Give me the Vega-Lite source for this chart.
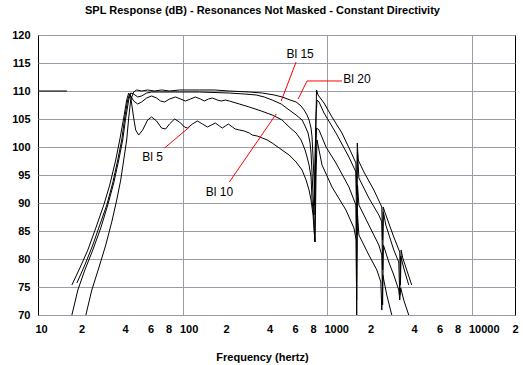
{
  "$schema": "https://vega.github.io/schema/vega-lite/v6.json",
  "width": 477,
  "height": 280,
  "autosize": "none",
  "padding": {"left": 38, "top": 35, "right": 8, "bottom": 50},
  "background": "white",
  "title": {
    "text": "SPL Response (dB) - Resonances Not Masked - Constant Directivity",
    "font": "Liberation Sans", "fontSize": 11, "fontWeight": "bold", "color": "black",
    "anchor": "middle", "dx": -14, "offset": 13
  },
  "config": {
    "view": {"stroke": "black", "strokeWidth": 1},
    "axis": {"labelFont": "Liberation Sans", "labelFontSize": 11, "labelFontWeight": "bold", "labelColor": "black", "titleFont": "Liberation Sans", "titleFontSize": 11, "titleFontWeight": "bold", "titleColor": "black"}
  },
  "encoding": {
    "x": {
      "field": "f", "type": "quantitative",
      "scale": {"type": "log", "domain": [10, 20000], "nice": false},
      "axis": {
        "values": [10, 20, 40, 60, 80, 100, 200, 400, 600, 800, 1000, 2000, 4000, 6000, 8000, 10000, 20000],
        "labelExpr": "(datum.value == 10 || datum.value == 100 || datum.value == 1000 || datum.value == 10000) ? toString(datum.value) : substring(toString(datum.value), 0, 1)",
        "grid": true,
        "gridColor": {"condition": {"test": "datum.value == 100 || datum.value == 1000 || datum.value == 10000", "value": "#9a9aaa"}, "value": "transparent"},
        "gridWidth": 1,
        "tickSize": 0, "domain": false,
        "labelAlign": "left", "labelOffset": -3, "labelPadding": 8, "labelBaseline": "top",
        "labelFlush": false, "labelOverlap": false, "labelBound": false,
        "title": "Frequency (hertz)", "titleX": 224, "titleY": 45, "titleBaseline": "alphabetic"
      }
    },
    "y": {
      "field": "db", "type": "quantitative",
      "scale": {"domain": [70, 120], "nice": false, "zero": false},
      "axis": {
        "values": [70, 75, 80, 85, 90, 95, 100, 105, 110, 115, 120],
        "grid": true, "gridColor": "#9a9aaa", "gridWidth": 1, "labelOverlap": false,
        "tickSize": 0, "domain": false, "labelPadding": 8, "title": null
      }
    }
  },
  "layer": [
    {
      "data": {"values": [
        {"s": "ref", "f": 10, "db": 110}, {"s": "ref", "f": 15.85, "db": 110},
        {"s": "Bl 5", "f": 17.16, "db": 75.36}, {"s": "Bl 5", "f": 19.48, "db": 78.39}, {"s": "Bl 5", "f": 22.13, "db": 81.61}, {"s": "Bl 5", "f": 25.12, "db": 85.54}, {"s": "Bl 5", "f": 28.52, "db": 89.64}, {"s": "Bl 5", "f": 31.37, "db": 93.21}, {"s": "Bl 5", "f": 34.51, "db": 97.68}, {"s": "Bl 5", "f": 36.78, "db": 101.25}, {"s": "Bl 5", "f": 39.19, "db": 105.18}, {"s": "Bl 5", "f": 41.1, "db": 108.39}, {"s": "Bl 5", "f": 42.43, "db": 109.64}, {"s": "Bl 5", "f": 43.8, "db": 108.93}, {"s": "Bl 5", "f": 45.94, "db": 105.18}, {"s": "Bl 5", "f": 47.42, "db": 103.04}, {"s": "Bl 5", "f": 49.74, "db": 102.14}, {"s": "Bl 5", "f": 53.0, "db": 103.04}, {"s": "Bl 5", "f": 57.36, "db": 104.82}, {"s": "Bl 5", "f": 61.11, "db": 105.36}, {"s": "Bl 5", "f": 66.17, "db": 104.64}, {"s": "Bl 5", "f": 71.63, "db": 103.39}, {"s": "Bl 5", "f": 76.33, "db": 103.21}, {"s": "Bl 5", "f": 81.35, "db": 104.11}, {"s": "Bl 5", "f": 88.1, "db": 105.0}, {"s": "Bl 5", "f": 95.35, "db": 104.46}, {"s": "Bl 5", "f": 103.2, "db": 103.57}, {"s": "Bl 5", "f": 108.3, "db": 103.39}, {"s": "Bl 5", "f": 117.2, "db": 104.11}, {"s": "Bl 5", "f": 126.9, "db": 104.64}, {"s": "Bl 5", "f": 137.4, "db": 104.11}, {"s": "Bl 5", "f": 148.7, "db": 103.57}, {"s": "Bl 5", "f": 158.5, "db": 103.93}, {"s": "Bl 5", "f": 168.9, "db": 104.29}, {"s": "Bl 5", "f": 180.0, "db": 103.75}, {"s": "Bl 5", "f": 188.7, "db": 103.39}, {"s": "Bl 5", "f": 198.0, "db": 103.75}, {"s": "Bl 5", "f": 207.7, "db": 104.11}, {"s": "Bl 5", "f": 221.3, "db": 103.57}, {"s": "Bl 5", "f": 232.0, "db": 103.21}, {"s": "Bl 5", "f": 247.2, "db": 103.04}, {"s": "Bl 5", "f": 267.6, "db": 102.86}, {"s": "Bl 5", "f": 289.8, "db": 102.5}, {"s": "Bl 5", "f": 303.9, "db": 102.14}, {"s": "Bl 5", "f": 329.0, "db": 101.96}, {"s": "Bl 5", "f": 356.3, "db": 101.61}, {"s": "Bl 5", "f": 385.7, "db": 101.25}, {"s": "Bl 5", "f": 417.6, "db": 100.71}, {"s": "Bl 5", "f": 466.7, "db": 99.82}, {"s": "Bl 5", "f": 547.1, "db": 98.57}, {"s": "Bl 5", "f": 611.1, "db": 97.32}, {"s": "Bl 5", "f": 672.3, "db": 95.89}, {"s": "Bl 5", "f": 716.3, "db": 94.11}, {"s": "Bl 5", "f": 751.3, "db": 92.32}, {"s": "Bl 5", "f": 775.5, "db": 90.54}, {"s": "Bl 5", "f": 800.6, "db": 87.86}, {"s": "Bl 5", "f": 813.5, "db": 85.18}, {"s": "Bl 5", "f": 826.5, "db": 83.04}, {"s": "Bl 5", "f": 839.8, "db": 95.0}, {"s": "Bl 5", "f": 853.2, "db": 101.25}, {"s": "Bl 5", "f": 923.7, "db": 96.79}, {"s": "Bl 5", "f": 1082.6, "db": 92.86}, {"s": "Bl 5", "f": 1352.1, "db": 88.75}, {"s": "Bl 5", "f": 1535.5, "db": 85.54}, {"s": "Bl 5", "f": 1592.7, "db": 83.39}, {"s": "Bl 5", "f": 1602.8, "db": 72.68}, {"s": "Bl 5", "f": 1618.2, "db": 88.75}, {"s": "Bl 5", "f": 1662.6, "db": 84.29}, {"s": "Bl 5", "f": 1948.4, "db": 80.71}, {"s": "Bl 5", "f": 2212.9, "db": 78.04}, {"s": "Bl 5", "f": 2357.3, "db": 75.89}, {"s": "Bl 5", "f": 2395.0, "db": 70.89}, {"s": "Bl 5", "f": 2433.4, "db": 77.14}, {"s": "Bl 5", "f": 2593.0, "db": 73.57}, {"s": "Bl 5", "f": 2807.0, "db": 70.0},
        {"s": "Bl 10", "f": 18.58, "db": 75.71}, {"s": "Bl 10", "f": 21.1, "db": 78.93}, {"s": "Bl 10", "f": 23.95, "db": 82.5}, {"s": "Bl 10", "f": 26.76, "db": 86.07}, {"s": "Bl 10", "f": 29.91, "db": 89.64}, {"s": "Bl 10", "f": 32.9, "db": 93.57}, {"s": "Bl 10", "f": 35.63, "db": 97.68}, {"s": "Bl 10", "f": 37.96, "db": 101.25}, {"s": "Bl 10", "f": 39.81, "db": 105.18}, {"s": "Bl 10", "f": 41.76, "db": 108.39}, {"s": "Bl 10", "f": 43.1, "db": 109.46}, {"s": "Bl 10", "f": 45.94, "db": 108.21}, {"s": "Bl 10", "f": 48.95, "db": 107.68}, {"s": "Bl 10", "f": 52.16, "db": 108.04}, {"s": "Bl 10", "f": 56.45, "db": 108.75}, {"s": "Bl 10", "f": 61.11, "db": 109.11}, {"s": "Bl 10", "f": 66.17, "db": 108.75}, {"s": "Bl 10", "f": 70.5, "db": 108.21}, {"s": "Bl 10", "f": 75.13, "db": 108.04}, {"s": "Bl 10", "f": 81.35, "db": 108.57}, {"s": "Bl 10", "f": 89.51, "db": 108.93}, {"s": "Bl 10", "f": 96.87, "db": 108.57}, {"s": "Bl 10", "f": 104.9, "db": 108.21}, {"s": "Bl 10", "f": 113.5, "db": 108.57}, {"s": "Bl 10", "f": 122.9, "db": 108.93}, {"s": "Bl 10", "f": 133.1, "db": 108.57}, {"s": "Bl 10", "f": 141.8, "db": 108.21}, {"s": "Bl 10", "f": 151.1, "db": 108.57}, {"s": "Bl 10", "f": 161.1, "db": 108.75}, {"s": "Bl 10", "f": 174.4, "db": 108.39}, {"s": "Bl 10", "f": 185.8, "db": 108.21}, {"s": "Bl 10", "f": 198.0, "db": 108.39}, {"s": "Bl 10", "f": 211.0, "db": 108.21}, {"s": "Bl 10", "f": 247.2, "db": 107.68}, {"s": "Bl 10", "f": 289.8, "db": 107.14}, {"s": "Bl 10", "f": 350.6, "db": 106.43}, {"s": "Bl 10", "f": 417.6, "db": 105.71}, {"s": "Bl 10", "f": 489.5, "db": 104.82}, {"s": "Bl 10", "f": 547.1, "db": 103.57}, {"s": "Bl 10", "f": 611.1, "db": 102.5}, {"s": "Bl 10", "f": 661.7, "db": 101.25}, {"s": "Bl 10", "f": 705.0, "db": 99.46}, {"s": "Bl 10", "f": 727.8, "db": 98.21}, {"s": "Bl 10", "f": 751.3, "db": 96.79}, {"s": "Bl 10", "f": 775.5, "db": 94.64}, {"s": "Bl 10", "f": 787.9, "db": 90.54}, {"s": "Bl 10", "f": 813.5, "db": 86.96}, {"s": "Bl 10", "f": 822.6, "db": 83.04}, {"s": "Bl 10", "f": 833.1, "db": 96.79}, {"s": "Bl 10", "f": 846.4, "db": 103.39}, {"s": "Bl 10", "f": 880.7, "db": 103.04}, {"s": "Bl 10", "f": 984.2, "db": 100.0}, {"s": "Bl 10", "f": 1153.6, "db": 97.14}, {"s": "Bl 10", "f": 1418.3, "db": 92.86}, {"s": "Bl 10", "f": 1584.9, "db": 89.64}, {"s": "Bl 10", "f": 1605.4, "db": 70.0}, {"s": "Bl 10", "f": 1625.9, "db": 93.21}, {"s": "Bl 10", "f": 1662.6, "db": 89.64}, {"s": "Bl 10", "f": 1948.4, "db": 86.07}, {"s": "Bl 10", "f": 2283.7, "db": 82.5}, {"s": "Bl 10", "f": 2395.0, "db": 80.71}, {"s": "Bl 10", "f": 2425.7, "db": 71.79}, {"s": "Bl 10", "f": 2456.7, "db": 82.5}, {"s": "Bl 10", "f": 2676.4, "db": 79.46}, {"s": "Bl 10", "f": 2897.8, "db": 77.14}, {"s": "Bl 10", "f": 3137.2, "db": 74.46}, {"s": "Bl 10", "f": 3187.6, "db": 72.68}, {"s": "Bl 10", "f": 3238.5, "db": 74.82}, {"s": "Bl 10", "f": 3396.7, "db": 72.68}, {"s": "Bl 10", "f": 3677.6, "db": 70.0},
        {"s": "Bl 15", "f": 17.16, "db": 70.0}, {"s": "Bl 15", "f": 18.87, "db": 74.46}, {"s": "Bl 15", "f": 21.1, "db": 78.04}, {"s": "Bl 15", "f": 23.95, "db": 81.61}, {"s": "Bl 15", "f": 27.19, "db": 85.54}, {"s": "Bl 15", "f": 30.39, "db": 89.64}, {"s": "Bl 15", "f": 33.43, "db": 93.57}, {"s": "Bl 15", "f": 36.2, "db": 97.68}, {"s": "Bl 15", "f": 38.57, "db": 101.25}, {"s": "Bl 15", "f": 40.45, "db": 105.18}, {"s": "Bl 15", "f": 42.43, "db": 108.39}, {"s": "Bl 15", "f": 43.8, "db": 109.64}, {"s": "Bl 15", "f": 45.94, "db": 109.46}, {"s": "Bl 15", "f": 48.95, "db": 108.93}, {"s": "Bl 15", "f": 52.16, "db": 109.11}, {"s": "Bl 15", "f": 56.45, "db": 109.64}, {"s": "Bl 15", "f": 61.11, "db": 109.82}, {"s": "Bl 15", "f": 69.39, "db": 109.82}, {"s": "Bl 15", "f": 81.35, "db": 109.82}, {"s": "Bl 15", "f": 95.35, "db": 109.82}, {"s": "Bl 15", "f": 131.0, "db": 109.82}, {"s": "Bl 15", "f": 211.0, "db": 109.64}, {"s": "Bl 15", "f": 267.6, "db": 109.46}, {"s": "Bl 15", "f": 323.9, "db": 109.29}, {"s": "Bl 15", "f": 367.8, "db": 108.93}, {"s": "Bl 15", "f": 417.6, "db": 108.39}, {"s": "Bl 15", "f": 481.8, "db": 107.68}, {"s": "Bl 15", "f": 547.1, "db": 106.61}, {"s": "Bl 15", "f": 611.1, "db": 105.71}, {"s": "Bl 15", "f": 672.3, "db": 104.82}, {"s": "Bl 15", "f": 705.0, "db": 103.75}, {"s": "Bl 15", "f": 739.4, "db": 102.5}, {"s": "Bl 15", "f": 763.3, "db": 100.71}, {"s": "Bl 15", "f": 775.5, "db": 98.93}, {"s": "Bl 15", "f": 787.9, "db": 95.36}, {"s": "Bl 15", "f": 800.6, "db": 91.43}, {"s": "Bl 15", "f": 813.5, "db": 87.86}, {"s": "Bl 15", "f": 826.5, "db": 97.68}, {"s": "Bl 15", "f": 839.8, "db": 105.71}, {"s": "Bl 15", "f": 853.2, "db": 108.39}, {"s": "Bl 15", "f": 880.7, "db": 108.04}, {"s": "Bl 15", "f": 953.5, "db": 106.07}, {"s": "Bl 15", "f": 1153.6, "db": 102.5}, {"s": "Bl 15", "f": 1418.3, "db": 98.21}, {"s": "Bl 15", "f": 1584.9, "db": 95.54}, {"s": "Bl 15", "f": 1605.4, "db": 84.29}, {"s": "Bl 15", "f": 1625.9, "db": 99.11}, {"s": "Bl 15", "f": 1662.6, "db": 94.46}, {"s": "Bl 15", "f": 1948.4, "db": 90.89}, {"s": "Bl 15", "f": 2283.7, "db": 87.86}, {"s": "Bl 15", "f": 2395.0, "db": 86.61}, {"s": "Bl 15", "f": 2425.7, "db": 78.04}, {"s": "Bl 15", "f": 2456.7, "db": 88.39}, {"s": "Bl 15", "f": 2552.1, "db": 86.07}, {"s": "Bl 15", "f": 2897.8, "db": 81.61}, {"s": "Bl 15", "f": 3137.2, "db": 79.46}, {"s": "Bl 15", "f": 3187.6, "db": 73.57}, {"s": "Bl 15", "f": 3238.5, "db": 80.54}, {"s": "Bl 15", "f": 3396.7, "db": 78.39}, {"s": "Bl 15", "f": 3677.6, "db": 75.36},
        {"s": "Bl 20", "f": 21.44, "db": 70.0}, {"s": "Bl 20", "f": 23.57, "db": 74.46}, {"s": "Bl 20", "f": 26.34, "db": 78.39}, {"s": "Bl 20", "f": 29.44, "db": 82.5}, {"s": "Bl 20", "f": 32.39, "db": 86.61}, {"s": "Bl 20", "f": 35.06, "db": 90.54}, {"s": "Bl 20", "f": 37.37, "db": 94.11}, {"s": "Bl 20", "f": 39.19, "db": 97.68}, {"s": "Bl 20", "f": 41.1, "db": 101.25}, {"s": "Bl 20", "f": 42.43, "db": 105.18}, {"s": "Bl 20", "f": 43.8, "db": 108.39}, {"s": "Bl 20", "f": 45.94, "db": 109.82}, {"s": "Bl 20", "f": 48.18, "db": 110.18}, {"s": "Bl 20", "f": 52.16, "db": 110.0}, {"s": "Bl 20", "f": 57.36, "db": 110.18}, {"s": "Bl 20", "f": 64.1, "db": 110.0}, {"s": "Bl 20", "f": 71.63, "db": 110.18}, {"s": "Bl 20", "f": 81.35, "db": 110.0}, {"s": "Bl 20", "f": 95.35, "db": 110.18}, {"s": "Bl 20", "f": 131.0, "db": 110.18}, {"s": "Bl 20", "f": 166.3, "db": 110.18}, {"s": "Bl 20", "f": 211.0, "db": 110.0}, {"s": "Bl 20", "f": 289.8, "db": 109.82}, {"s": "Bl 20", "f": 356.3, "db": 109.64}, {"s": "Bl 20", "f": 431.0, "db": 109.29}, {"s": "Bl 20", "f": 489.5, "db": 108.93}, {"s": "Bl 20", "f": 555.9, "db": 108.39}, {"s": "Bl 20", "f": 611.1, "db": 108.04}, {"s": "Bl 20", "f": 661.7, "db": 107.32}, {"s": "Bl 20", "f": 693.9, "db": 106.61}, {"s": "Bl 20", "f": 727.8, "db": 105.71}, {"s": "Bl 20", "f": 751.3, "db": 104.82}, {"s": "Bl 20", "f": 775.5, "db": 103.39}, {"s": "Bl 20", "f": 787.9, "db": 101.79}, {"s": "Bl 20", "f": 800.6, "db": 98.21}, {"s": "Bl 20", "f": 813.5, "db": 94.11}, {"s": "Bl 20", "f": 820.0, "db": 89.64}, {"s": "Bl 20", "f": 830.5, "db": 99.46}, {"s": "Bl 20", "f": 846.4, "db": 110.18}, {"s": "Bl 20", "f": 866.9, "db": 109.29}, {"s": "Bl 20", "f": 953.5, "db": 107.86}, {"s": "Bl 20", "f": 1082.6, "db": 105.36}, {"s": "Bl 20", "f": 1268.9, "db": 102.5}, {"s": "Bl 20", "f": 1463.9, "db": 99.11}, {"s": "Bl 20", "f": 1584.9, "db": 97.14}, {"s": "Bl 20", "f": 1602.8, "db": 91.43}, {"s": "Bl 20", "f": 1620.8, "db": 100.71}, {"s": "Bl 20", "f": 1644.1, "db": 97.68}, {"s": "Bl 20", "f": 1800.0, "db": 95.54}, {"s": "Bl 20", "f": 2109.8, "db": 92.32}, {"s": "Bl 20", "f": 2395.0, "db": 89.29}, {"s": "Bl 20", "f": 2421.8, "db": 83.39}, {"s": "Bl 20", "f": 2448.9, "db": 89.29}, {"s": "Bl 20", "f": 2511.9, "db": 88.39}, {"s": "Bl 20", "f": 2897.8, "db": 83.93}, {"s": "Bl 20", "f": 3187.6, "db": 81.25}, {"s": "Bl 20", "f": 3223.2, "db": 75.36}, {"s": "Bl 20", "f": 3259.2, "db": 81.61}, {"s": "Bl 20", "f": 3343.1, "db": 80.18}, {"s": "Bl 20", "f": 3857.2, "db": 75.36}
      ]},
      "mark": {"type": "line", "color": "black", "strokeWidth": 1, "clip": true},
      "encoding": {
        "detail": {"field": "s", "type": "nominal"}
      }
    },
    {
      "data": {"values": [
        {"f": 75.13, "db": 99.82, "f2": 111.75, "db2": 103.57},
        {"f": 211.0, "db": 93.75, "f2": 444.9, "db2": 105.89},
        {"f": 611.1, "db": 115.18, "f2": 481.8, "db2": 108.21},
        {"f": 1268.9, "db": 111.79, "f2": 727.8, "db2": 111.79},
        {"f": 727.8, "db": 111.79, "f2": 631.0, "db2": 108.57}
      ]},
      "mark": {"type": "rule", "color": "#ff0000", "strokeWidth": 1},
      "encoding": {
        "x2": {"field": "f2"},
        "y2": {"field": "db2"}
      }
    },
    {
      "data": {"values": [
        {"label": "Bl 5", "f": 62.1, "db": 98.21},
        {"label": "Bl 10", "f": 180.0, "db": 91.96},
        {"label": "Bl 15", "f": 651.3, "db": 116.61},
        {"label": "Bl 20", "f": 1610.5, "db": 112.14}
      ]},
      "mark": {"type": "text", "font": "Liberation Sans", "fontSize": 12, "color": "black", "align": "center", "baseline": "middle"},
      "encoding": {
        "text": {"field": "label"}
      }
    }
  ]
}
